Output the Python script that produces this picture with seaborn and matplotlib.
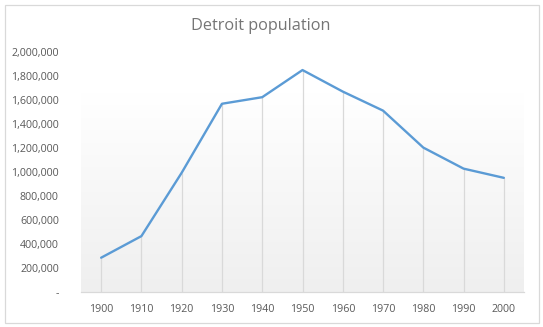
import numpy as np
import matplotlib
matplotlib.use("Agg")
import matplotlib.pyplot as plt
import seaborn as sns
import pandas as pd
from matplotlib.ticker import FuncFormatter
from matplotlib.patches import Rectangle
from matplotlib.colors import LinearSegmentedColormap

years = [1900, 1910, 1920, 1930, 1940, 1950, 1960, 1970, 1980, 1990, 2000]
population = [285704, 465766, 993678, 1568662, 1623452, 1849568, 1670144,
              1511482, 1203339, 1027974, 951270]
title = "Detroit population"

df = pd.DataFrame({"year": years, "population": population})

sns.set_theme(style="white")
plt.rcParams['font.family'] = ['Open Sans', 'DejaVu Sans']

W, H = 543, 327
fig = plt.figure(figsize=(W / 100, H / 100), dpi=100)
L, R, T, B = 81, 524, 52, 292
ax = fig.add_axes([L / W, 1 - B / H, (R - L) / W, (B - T) / H])

# gradient background (white near top, light gray at bottom)
grad = np.linspace(0, 1, 256).reshape(-1, 1)
cmap = LinearSegmentedColormap.from_list(
    "g", [(0, "#ffffff"), (0.17, "#ffffff"), (1, "#efefef")])
ax.imshow(grad, extent=[1895, 2005, 0, 2000000], aspect="auto", cmap=cmap,
          origin="upper", zorder=0)

ax.vlines(df["year"], 0, df["population"], color="#d9d9d9", lw=0.9, zorder=1)
sns.lineplot(data=df, x="year", y="population", ax=ax, color="#5b9bd5",
             lw=1.7, zorder=3)

ax.set_xlim(1895, 2005)
ax.set_ylim(0, 2000000)
ax.set_xticks(years)
ax.set_yticks(np.arange(0, 2000001, 200000))
ax.yaxis.set_major_formatter(FuncFormatter(lambda v, p: "-" if v == 0 else f"{int(v):,}"))
ax.set_xlabel("")
ax.set_ylabel("")
for s in ["top", "right", "left"]:
    ax.spines[s].set_visible(False)
ax.spines["bottom"].set_color("#d9d9d9")
ax.spines["bottom"].set_linewidth(0.9)
ax.tick_params(axis="both", length=0, labelsize=7.7, colors="#595959")
ax.tick_params(axis="y", pad=16)
ax.tick_params(axis="x", pad=9)

fig.text(261 / W, 1 - 26 / H, title, ha="center", va="center", fontsize=11.7,
         color="#757575")

fig.patches.append(Rectangle((4.5 / W, 1 - 322.5 / H), (538.5 - 4.5) / W,
                             (322.5 - 4.5) / H, transform=fig.transFigure,
                             fill=False, edgecolor="#d9d9d9", lw=0.9))

fig.savefig("out.png", dpi=100)
